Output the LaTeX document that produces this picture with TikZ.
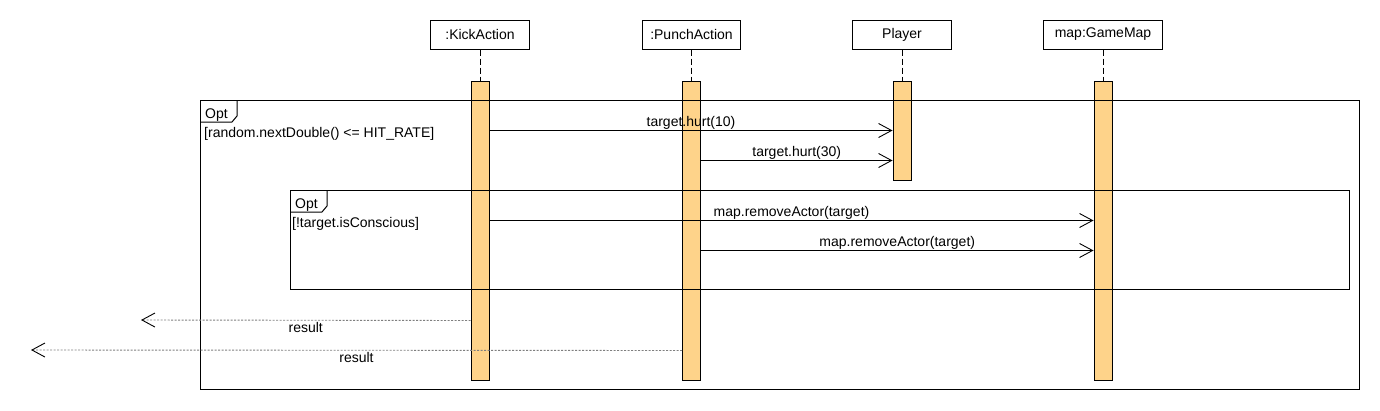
\documentclass[tikz,border=0pt]{standalone}
\usepackage{fontspec}
\setmainfont{Liberation Sans}
\usepackage{tikz}
\usetikzlibrary{arrows.meta,positioning,calc}
\definecolor{Act}{HTML}{FED38A}
\definecolor{Grey}{HTML}{7F7F7F}

\begin{document}
\begin{tikzpicture}[x=1pt,y=-1pt,font=\fontsize{14}{16}\selectfont,
    hdr/.style={draw,line width=1pt,minimum width=99pt,minimum height=29pt,inner sep=0pt},
    bar/.style={draw,fill=Act,line width=1pt,minimum width=18pt,inner sep=0pt},
    life/.style={line width=1pt,dash pattern=on 6pt off 3pt},
    frm/.style={draw,line width=1pt,inner sep=0pt,anchor=north west},
    msg/.style={-{Straight Barb[length=13pt,width=14pt,color=black]},line width=0.9pt},
    ret/.style={msg,Grey,dash pattern=on 2pt off 1.5pt},
    lbl/.style={anchor=base,inner sep=0pt,text=black}]
  \useasboundingbox (0,0) rectangle (1380,410);
  \node[hdr] (K) at (480,34.5) {:KickAction};
  \node[hdr,minimum width=98pt,right=112pt of K] (P) {:PunchAction};
  \node[hdr,right=111pt of P] (L) {Player};
  \node[hdr,minimum width=119pt,right=91pt of L] (M) {map:GameMap};
  \node[bar,minimum height=299pt,below=31pt of K] (KB) {};
  \node[bar,minimum height=299pt,below=31pt of P] (PB) {};
  \node[bar,minimum height=99pt,below=31pt of L] (LB) {};
  \node[bar,minimum height=299pt,below=31pt of M] (MB) {};
  \draw[life] (K) -- (KB);
  \draw[life] (P) -- (PB);
  \draw[life] (L) -- (LB);
  \draw[life] (M) -- (MB);

  \node[frm,minimum width=1159pt,minimum height=289pt] (O1) at (200,100) {};
  \draw[line width=1pt] (O1.north west) ++(37,0) -- ++(0,16) -- ++(-5,6) -- ++(-32,0);
  \node[lbl,anchor=base west] (T1) at ($(O1.north west)+(5,18)$) {Opt};
  \node[lbl,anchor=base west] (C1) at ($(O1.north west)+(4,37)$) {[random.nextDouble() <= HIT\_RATE]};
  \node[frm,minimum width=1059pt,minimum height=99pt] (O2) at (290,190) {};
  \draw[line width=1pt] (O2.north west) ++(37,0) -- ++(0,16) -- ++(-5,6) -- ++(-32,0);
  \node[lbl,anchor=base west] (T2) at ($(O2.north west)+(5,18)$) {Opt};
  \node[lbl,anchor=base west] (C2) at ($(O2.north west)+(2,37)$) {[!target.isConscious]};

  \draw[msg] ([yshift=-50pt]KB.north east) -- node[lbl,yshift=4pt]{target.hurt(10)} ([yshift=-50pt]LB.north west);
  \draw[msg] ([yshift=-80pt]PB.north east) -- node[lbl,yshift=4pt]{target.hurt(30)} ([yshift=-80pt]LB.north west);
  \draw[msg] ([yshift=-140pt]KB.north east) -- node[lbl,yshift=4pt]{map.removeActor(target)} ([yshift=-140pt]MB.north west);
  \draw[msg] ([yshift=-170pt]PB.north east) -- node[lbl,yshift=4pt]{map.removeActor(target)} ([yshift=-170pt]MB.north west);

  \coordinate (R1) at (141,320);
  \coordinate (R2) at (31,350);
  \draw[ret] ([yshift=-240pt]KB.north west) -- node[lbl,yshift=-12pt]{result} (R1);
  \draw[ret] ([yshift=-270pt]PB.north west) -- node[lbl,yshift=-12pt]{result} (R2);
\end{tikzpicture}
\end{document}
